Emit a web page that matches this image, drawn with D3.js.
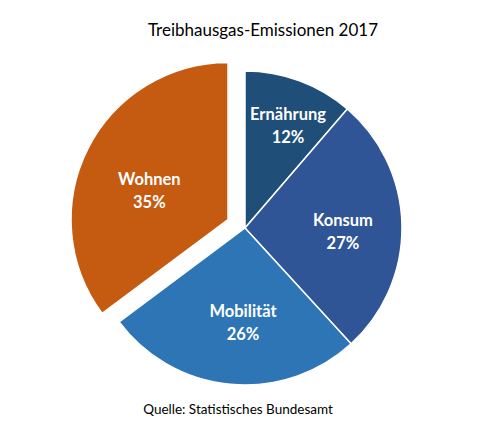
<!DOCTYPE html>
<html>
<head>
<meta charset="utf-8">
<script src="https://cdn.jsdelivr.net/npm/d3@7"></script>
<style>
  body { margin: 0; background: #fff; }
  text { font-family: Lato, "Open Sans", sans-serif; }
</style>
</head>
<body>
<div id="chart"></div>
<script>
const width = 486;
const height = 423;

// Data (shares, labels as printed)
const categories = ["Ernährung", "Konsum", "Mobilität", "Wohnen"];
const shares = [11.3, 26.9, 26.6, 35.2];
const percentLabels = ["12%", "27%", "26%", "35%"];
const colors = ["#1F4E79", "#2F5597", "#2E75B6", "#C55A11"];
const exploded = ["Wohnen"];

// Layout
const cx = 245, cy = 228, radius = 157, explode = 19;
// label anchor per slice: angle (deg, clockwise from top) and distance from slice centre
const labelPolar = {
    "Ernährung": { a: 22.8, r: 111 },
    "Konsum": { a: 92.3, r: 98 },
    "Mobilität": { a: 181.2, r: 94.5 },
    "Wohnen": { a: 290.5, r: 84 }
};

const data = categories.map((c, i) => ({ name: c, value: shares[i], label: percentLabels[i], color: colors[i] }));

const pie = d3.pie().value(d => d.value).sort(null);
const arc = d3.arc().innerRadius(0).outerRadius(radius);

const svg = d3.select("#chart")
    .append("svg")
    .attr("width", width)
    .attr("height", height);

// Title
svg.append("text")
    .attr("x", 263)
    .attr("y", 36)
    .attr("text-anchor", "middle")
    .attr("font-size", 17)
    .attr("fill", "#000")
    .text("Treibhausgas-Emissionen 2017");

const g = svg.append("g").attr("transform", `translate(${cx},${cy})`);

const slices = g.selectAll("g.slice")
    .data(pie(data))
    .enter()
    .append("g")
    .attr("class", "slice")
    .attr("transform", d => {
        if (!exploded.includes(d.data.name)) return null;
        const mid = (d.startAngle + d.endAngle) / 2;
        return `translate(${explode * Math.sin(mid)},${-explode * Math.cos(mid)})`;
    });

slices.append("path")
    .attr("d", arc)
    .attr("fill", d => d.data.color)
    .attr("stroke", "#fff")
    .attr("stroke-width", 1.5)
    .attr("stroke-linejoin", "round");

const labels = slices.append("text")
    .attr("text-anchor", "middle")
    .attr("fill", "#fff")
    .attr("font-weight", "bold")
    .attr("font-size", 16.5)
    .attr("transform", d => {
        const p = labelPolar[d.data.name];
        const a = p.a * Math.PI / 180;
        return `translate(${p.r * Math.sin(a)},${-p.r * Math.cos(a)})`;
    });

labels.append("tspan")
    .attr("x", 0)
    .attr("y", -11.5)
    .attr("dominant-baseline", "central")
    .text(d => d.data.name);

labels.append("tspan")
    .attr("x", 0)
    .attr("y", 11.5)
    .attr("dominant-baseline", "central")
    .text(d => d.data.label);

// Source note
svg.append("text")
    .attr("x", 238)
    .attr("y", 414)
    .attr("text-anchor", "middle")
    .attr("font-size", 13.5)
    .attr("fill", "#000")
    .text("Quelle: Statistisches Bundesamt");
</script>
</body>
</html>
